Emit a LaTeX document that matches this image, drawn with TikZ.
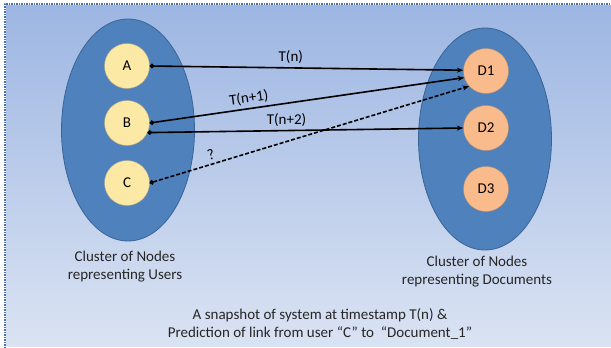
\documentclass[tikz,border=0pt]{standalone}
\usepackage{fontspec}
\setmainfont{Carlito}
\usetikzlibrary{arrows.meta,shapes.geometric}
\definecolor{bgtop}{HTML}{9DB6E2}
\definecolor{bgbot}{HTML}{DAE3F3}
\definecolor{frame}{HTML}{4A6FA8}
\definecolor{clusterfill}{HTML}{4F81BD}
\definecolor{clusterdraw}{HTML}{3A6496}
\definecolor{userfill}{HTML}{FDE9A6}
\definecolor{userdraw}{HTML}{B9AC82}
\definecolor{docfill}{HTML}{F9BB8C}
\definecolor{docdraw}{HTML}{C4946C}

\begin{document}
\begin{tikzpicture}[x=1pt, y=-1pt, font=\fontsize{15}{18}\selectfont, line join=round,
			>={Stealth[length=6.5pt,width=5pt]},
			cluster/.style={ellipse, draw=clusterdraw, fill=clusterfill, line width=0.8pt,
				minimum width=133pt, minimum height=222pt},
			user/.style={circle, draw=userdraw, fill=userfill, minimum size=45pt, inner sep=0pt},
			doc/.style={circle, draw=docdraw, fill=docfill, minimum size=45pt, inner sep=0pt},
			link/.style={line width=1.6pt, {Circle[length=4.5pt]}->},
			guess/.style={link, dash pattern=on 4pt off 2pt},
			caption/.style={align=center, text=black!85}]
			\def \W{611}
			\def \H{348}
			\useasboundingbox (0,0) rectangle (\W,\H);
			% background
			\shade[top color=bgtop, bottom color=bgbot] (6,5) rectangle (\W,346);
			\draw[frame, line width=1.2pt, dash pattern=on 1.5pt off 1pt] (5,\H)--(5,4)--(\W,4);
			% clusters
			\node[cluster] (users) at (128,130) {};
			\node[cluster] (docs) at (485,139) {};
			\node[user] (A) at (127,66) {A};
			\node[user] (B) at (127,123) {B};
			\node[user] (C) at (127,183) {C};
			\node[doc] (D1) at (486,71) {D1};
			\node[doc] (D2) at (486,128) {D2};
			\node[doc] (D3) at (486,189) {D3};
			% links
			\draw[link] (A.east) -- node[above, pos=0.45] (tn) {T(n)} (D1.178);
			\draw[link] (B.east) -- node[above, sloped, pos=0.32] (tn1) {T(n+1)} (D1.197);
			\draw[link] (B.-25) -- node[above, pos=0.44] (tn2) {T(n+2)} (D2.west);
			\draw[guess] (C.east) -- node[above, sloped, pos=0.2] (q) {?} (D1.222);
			% captions
			\node[caption] (userslabel) at (125,267) {Cluster of Nodes\\representing Users};
			\node[caption] (docslabel) at (477,272) {Cluster of Nodes\\representing Documents};
			\node[caption] (snapshot) at (320,324) {A snapshot of system at timestamp T(n) \&\\
				Prediction of link from user ``C'' to \ ``Document\_1''};
		\end{tikzpicture}
\end{document}
